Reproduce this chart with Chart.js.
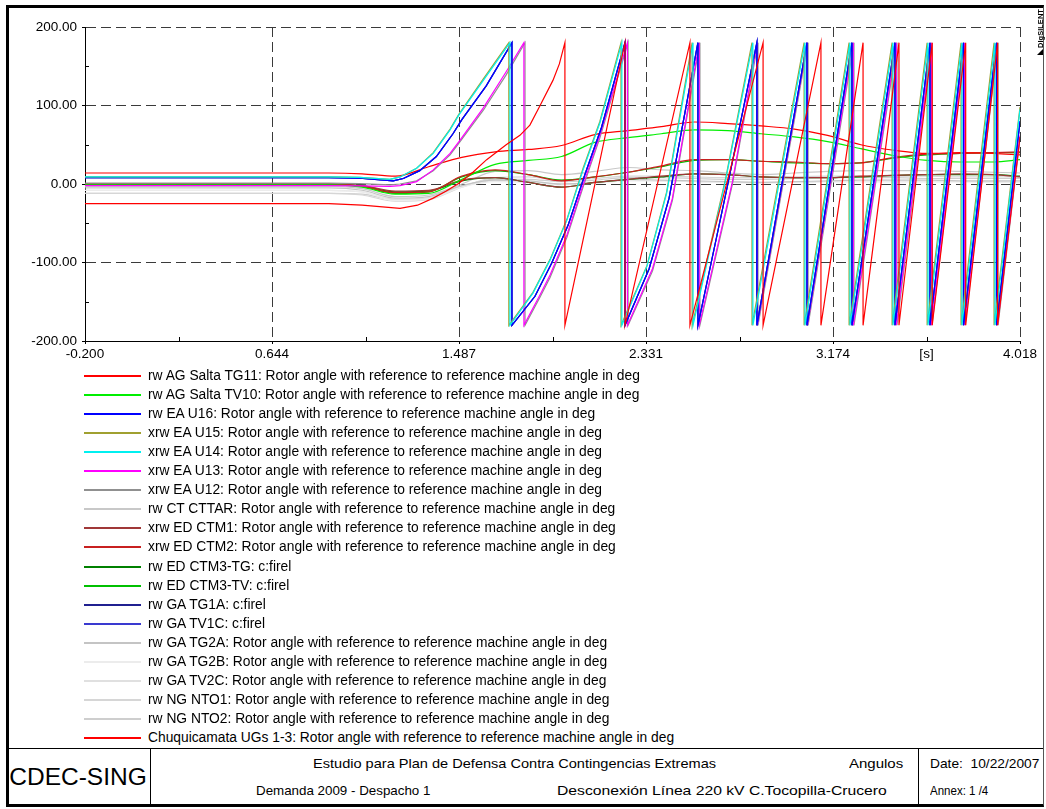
<!DOCTYPE html>
<html>
<head>
<meta charset="utf-8">
<script src="https://cdn.jsdelivr.net/npm/chart.js@4.4.1/dist/chart.umd.min.js"></script>
<style>
  body { margin: 0; background: #fff; font-family: "Liberation Sans", Arial, sans-serif; color: #000; }
  #page { position: relative; width: 1046px; height: 809px; overflow: hidden; }
  #frame { position: absolute; left: 6px; top: 5px; width: 1034px; height: 796px;
    border-left: 3px solid #000; border-top: 3px solid #000; border-right: 1px solid #555; border-bottom: 3px solid #000; }
  #plot { position: absolute; left: 0; top: 0; }
  .hl { position: absolute; height: 1px; background: #000; }
  .vl { position: absolute; width: 1px; background: #000; }
  .txt { position: absolute; white-space: nowrap; font-size: 13px; line-height: 16px; transform-origin: 0 50%; }
  #legend { position: absolute; left: 84px; top: 366px; }
  #legend .item { position: absolute; left: 0; height: 19px; display: flex; align-items: center; white-space: nowrap; font-size: 13.8px; }
  #legend .swatch { display: inline-block; width: 57px; height: 2px; margin-right: 7px; }
  #logo { position: absolute; left: 1018px; top: 24px; width: 44px; line-height: 9px; transform: rotate(-90deg);
    font-size: 7.5px; font-weight: bold; text-align: center; }
  #tri { position: absolute; left: 1037px; top: 49px; width: 0; height: 0; border-left: 6px solid transparent; border-bottom: 6px solid #000; }
</style>
</head>
<body>
<div id="page">
  <div id="frame"></div>
  <canvas id="plot" width="1046" height="370"></canvas>
  <div id="logo">DIgSILENT</div>
  <div id="tri"></div>
  <div id="legend"></div>

  <div class="hl" style="left:9px; top:748px; width:1034px;"></div>
  <div class="vl" style="left:150px; top:748px; height:56px;"></div>
  <div class="vl" style="left:918px; top:748px; height:56px;"></div>
  <div class="txt" style="left:4px; width:148px; top:762px; font-size:24.5px; line-height:30px; text-align:center;">CDEC-SING</div>
  <div class="txt" style="left:313px; top:756px; transform:scaleX(1.12);">Estudio para Plan de Defensa Contra Contingencias Extremas</div>
  <div class="txt" style="left:849px; top:756px; transform:scaleX(1.154);">Angulos</div>
  <div class="txt" style="left:256px; top:783px; transform:scaleX(1.027);">Demanda 2009 - Despacho 1</div>
  <div class="txt" style="left:557px; top:783px; transform:scaleX(1.207);">Desconexión Línea 220 kV C.Tocopilla-Crucero</div>
  <div class="txt" style="left:930px; top:756px; transform:scaleX(1.058);">Date:&nbsp; 10/22/2007</div>
  <div class="txt" style="left:930px; top:783px; transform:scaleX(0.886);">Annex: 1 /4</div>
</div>
<script>
(() => {
  'use strict'

  // axis ticks (odd entries are minor ticks)
  const xTickVals = [-0.2, 0.2218, 0.6436, 1.0654, 1.4872, 1.909, 2.3308, 2.7526, 3.1744, 3.5962, 4.018]
  const xTickLabels = ['-0.200', '', '0.644', '', '1.487', '', '2.331', '', '3.174', '[s]', '4.018']
  const yTickVals = [-200, -150, -100, -50, 0, 50, 100, 150, 200]
  const yTickLabels = ['-200.00', '', '-100.00', '', '0.00', '', '100.00', '', '200.00']

  // smooth (non slipping) machines, common time base in s
  const tSmooth = [-0.2, 0.9, 1.05, 1.2, 1.35, 1.5, 1.65, 1.8, 1.95, 2.1, 2.25, 2.4, 2.55, 2.7, 2.85, 3.0, 3.15, 3.3, 3.45, 3.6, 3.75, 3.9, 4.018]
  const saltaTG11 = [14, 14, 13, 10, 22, 34, 41, 44, 49, 63, 68, 73, 79, 77, 74, 70, 62, 50, 43, 39, 40, 39, 37]
  const saltaTV10 = [-1, -1, -4, -13, -12, 6, 25, 30, 35, 53, 59, 64, 69, 68, 64, 60, 54, 45, 36, 30, 28, 28, 31]
  const ctm1 = [0, 0, -2, -9, -8, 5, 8, 2, -4, 2, 6, 10, 13, 12, 9, 8, 8, 10, 11, 12, 13, 12, 9]
  const ctm2 = [0, 0, -3, -11, -10, 10, 18, 12, 4, 9, 15, 23, 31, 31, 29, 28, 26, 27, 34, 38, 39, 40, 41]
  const ctm3TG = [0, 0, -2, -10, -9, 4, 8, 2, -4, 2, 6, 9, 13, 12, 9, 8, 8, 9, 11, 12, 12, 12, 10]
  const ctm3TV = [0, 0, -3, -12, -10, 9, 17, 12, 5, 9, 15, 22, 30, 31, 29, 27, 26, 27, 33, 37, 39, 40, 40]
  const cttar = [-3, -3, -6, -16, -14, 0, 16, 17, 12, 16, 21, 18, 17, 14, 12, 14, 16, 17, 17, 17, 16, 15, 14]
  const tg2A = [-5, -5, -8, -18, -16, -2, 5, 4, 0, 2, 6, 5, 4, 3, 2, 3, 4, 5, 5, 5, 4, 4, 4]
  const tg2B = [-8, -8, -10, -21, -19, -4, 3, 2, -1, 1, 4, 4, 3, 2, 1, 2, 3, 3, 3, 3, 3, 2, 2]
  const tv2C = [-8, -8, -10, -20, -18, -3, 4, 3, 0, 2, 5, 4, 3, 2, 2, 2, 3, 3, 3, 3, 3, 3, 2]
  const nto1 = [-12, -12, -14, -22, -20, -4, 8, 9, 5, 7, 10, 10, 9, 8, 8, 9, 10, 10, 10, 10, 9, 9, 9]
  const nto2 = [-12, -12, -13, -20, -18, -3, 6, 6, 3, 5, 8, 8, 7, 6, 6, 7, 8, 8, 8, 7, 7, 7, 7]

  // slipping machines: angle wraps from +180 to -180
  const tU14 = [-0.2, 0.9, 1.04, 1.176, 1.221, 1.296, 1.371, 1.447, 1.487, 1.597, 1.717, 1.717, 1.821, 1.898, 1.974, 2.047, 2.123, 2.222, 2.222, 2.335, 2.424, 2.543, 2.543, 2.69, 2.813, 2.813, 3.048, 3.048, 3.251, 3.251, 3.445, 3.445, 3.603, 3.603, 3.756, 3.756, 3.905, 3.905, 4.018]
  const vU14 = [9, 9, 8.5, 6, 9, 20, 39, 69, 88, 132, 180, -180, -139, -97, -46, 18, 78, 180, -180, -105, -12, 180, -180, 5, 180, -180, 180, -180, 180, -180, 180, -180, 180, -180, 180, -180, 180, -180, 95]
  const tU15 = [-0.2, 0.9, 1.04, 1.176, 1.221, 1.296, 1.371, 1.447, 1.487, 1.597, 1.712, 1.712, 1.821, 1.898, 1.974, 2.047, 2.123, 2.218, 2.218, 2.335, 2.424, 2.539, 2.539, 2.69, 2.809, 2.809, 3.044, 3.044, 3.247, 3.247, 3.441, 3.441, 3.599, 3.599, 3.752, 3.752, 3.901, 3.901, 4.018]
  const vU15 = [9, 9, 8.5, 6, 9, 20, 40, 70, 89, 134, 180, -180, -138, -96, -45, 20, 80, 180, -180, -104, -10, 180, -180, 7, 180, -180, 180, -180, 180, -180, 180, -180, 180, -180, 180, -180, 180, -180, 98]
  const tU16 = [-0.2, 0.9, 1.04, 1.19, 1.236, 1.31, 1.385, 1.46, 1.5, 1.61, 1.726, 1.726, 1.83, 1.905, 1.98, 2.055, 2.13, 2.236, 2.236, 2.345, 2.435, 2.565, 2.565, 2.70, 2.831, 2.831, 3.057, 3.057, 3.26, 3.26, 3.454, 3.454, 3.612, 3.612, 3.763, 3.763, 3.912, 3.912, 4.018]
  const vU16 = [8, 8, 7.5, 4, 7, 17, 35, 64, 82, 125, 180, -180, -143, -101, -52, 12, 72, 180, -180, -108, -18, 180, -180, 0, 180, -180, 180, -180, 180, -180, 180, -180, 180, -180, 180, -180, 180, -180, 80]
  const tU13 = [-0.2, 0.9, 1.04, 1.176, 1.221, 1.296, 1.371, 1.447, 1.487, 1.597, 1.70, 1.78, 1.78, 1.853, 1.898, 1.974, 2.047, 2.123, 2.247, 2.247, 2.36, 2.45, 2.571, 2.571, 2.72, 2.833, 2.833, 3.059, 3.059, 3.266, 3.266, 3.46, 3.46, 3.618, 3.618, 3.767, 3.767, 3.916, 3.916, 4.018]
  const vU13 = [-2, -2, -2.5, -3, -2, 3, 18, 39, 54, 97, 143, 180, -180, -141, -116, -65, -1, 62, 180, -180, -108, -18, 180, -180, 2, 180, -180, 180, -180, 180, -180, 180, -180, 180, -180, 180, -180, 180, -180, 62]
  const tU12 = [-0.2, 0.9, 1.04, 1.176, 1.221, 1.296, 1.371, 1.447, 1.487, 1.597, 1.70, 1.785, 1.785, 1.853, 1.898, 1.974, 2.047, 2.123, 2.25, 2.25, 2.36, 2.45, 2.574, 2.574, 2.72, 2.836, 2.836, 3.062, 3.062, 3.269, 3.269, 3.463, 3.463, 3.621, 3.621, 3.77, 3.77, 3.919, 3.919, 4.018]
  const vU12 = [1, 1, 0.5, -1, 0, 4, 17, 37, 52, 94, 139, 180, -180, -144, -119, -68, -4, 59, 180, -180, -111, -21, 180, -180, -1, 180, -180, 180, -180, 180, -180, 180, -180, 180, -180, 180, -180, 180, -180, 58]
  const tChuqui = [-0.2, 0.9, 1.05, 1.221, 1.3, 1.371, 1.43, 1.487, 1.55, 1.612, 1.70, 1.762, 1.807, 1.853, 1.911, 1.94, 1.965, 1.965, 2.236, 2.236, 2.529, 2.529, 2.859, 2.859, 3.12, 3.12, 3.31, 3.31, 3.472, 3.472, 3.622, 3.622, 3.773, 3.773, 3.917, 3.917, 4.018]
  const vChuqui = [-25, -25, -27, -31, -27, -18, -9, 1, 15, 31, 50, 62, 75, 100, 132, 153, 180, -180, 180, -180, 180, -180, 180, -180, 180, -180, 180, -180, 180, -180, 180, -180, 180, -180, 180, -180, 60]

  const rotor = ': Rotor angle with reference to reference machine angle in deg'

  const pts = (ts, vs) => ts.map((t, i) => ({ x: t, y: vs[i] }))
  // order: lower number is drawn on top
  const smooth = (label, color, vs, order) => ({ label, borderColor: color, data: pts(tSmooth, vs), cubicInterpolationMode: 'monotone', order })
  const saw = (label, color, ts, vs, order) => ({ label, borderColor: color, data: pts(ts, vs), tension: 0, order })

  const datasets = [
    smooth('rw AG Salta TG11' + rotor, '#ff0000', saltaTG11, 8),
    smooth('rw AG Salta TV10' + rotor, '#00ee00', saltaTV10, 9),
    saw('rw EA U16' + rotor, '#0000ff', tU16, vU16, 3),
    saw('xrw EA U15' + rotor, '#a0a030', tU15, vU15, 2),
    saw('xrw EA U14' + rotor, '#00f0f0', tU14, vU14, 1),
    saw('xrw EA U13' + rotor, '#ff00ff', tU13, vU13, 6),
    saw('xrw EA U12' + rotor, '#909090', tU12, vU12, 7),
    smooth('rw CT CTTAR' + rotor, '#c8c8c8', cttar, 14),
    smooth('xrw ED CTM1' + rotor, '#a03838', ctm1, 11),
    smooth('xrw ED CTM2' + rotor, '#c82020', ctm2, 10),
    smooth('rw ED CTM3-TG: c:firel', '#008000', ctm3TG, 13),
    smooth('rw ED CTM3-TV: c:firel', '#00c000', ctm3TV, 12),
    saw('rw GA TG1A: c:firel', '#202090', tU16, vU16, 5),
    saw('rw GA TV1C: c:firel', '#3a3ad0', tU16, vU16, 4),
    smooth('rw GA TG2A' + rotor, '#c4c4c4', tg2A, 15),
    smooth('rw GA TG2B' + rotor, '#ececec', tg2B, 16),
    smooth('rw GA TV2C' + rotor, '#e0e0e0', tv2C, 17),
    smooth('rw NG NTO1' + rotor, '#d6d6d6', nto1, 18),
    smooth('rw NG NTO2' + rotor, '#cecece', nto2, 19),
    saw('Chuquicamata UGs 1-3' + rotor, '#ff0000', tChuqui, vChuqui, 0)
  ]

  // minor ticks point into the plot
  const minorTicks = {
    id: 'minorTicks',
    afterDraw (chart) {
      const { ctx, chartArea: a, scales: { x, y } } = chart
      ctx.save()
      ctx.strokeStyle = '#000'
      ctx.lineWidth = 1
      ctx.beginPath()
      xTickVals.forEach((v, i) => {
        if (i % 2 === 0) return
        const px = Math.round(x.getPixelForValue(v)) + 0.5
        ctx.moveTo(px, a.bottom)
        ctx.lineTo(px, a.bottom - 4)
      })
      yTickVals.forEach((v, i) => {
        if (i % 2 === 0) return
        const py = Math.round(y.getPixelForValue(v)) + 0.5
        ctx.moveTo(a.left, py)
        ctx.lineTo(a.left + 4, py)
      })
      ctx.stroke()
      ctx.restore()
    }
  }

  const tickFont = { family: 'Liberation Sans', size: 13.5 }
  const gridColor = c => (c.index % 2 === 0 && c.index !== 0) ? '#3a3a3a' : 'rgba(0,0,0,0)'
  const tickColor = c => (c.index % 2 === 0) ? '#000' : 'rgba(0,0,0,0)'

  const chart = new Chart(document.getElementById('plot'), {
    type: 'line',
    data: { datasets },
    options: {
      responsive: false,
      animation: false,
      events: [],
      layout: { padding: { left: 0, right: 26, top: 27, bottom: 7 } },
      elements: { point: { radius: 0 }, line: { borderWidth: 1.2, fill: false } },
      plugins: { legend: { display: false }, tooltip: { enabled: false } },
      scales: {
        x: {
          type: 'linear',
          min: -0.2,
          max: 4.018,
          afterBuildTicks: s => { s.ticks = xTickVals.map(v => ({ value: v })) },
          afterFit: s => { s.height = 22 },
          ticks: { autoSkip: false, maxRotation: 0, padding: 2, color: '#000', font: tickFont, callback: (v, i) => xTickLabels[i] },
          grid: { color: gridColor, tickColor, tickLength: 3, lineWidth: 1 },
          border: { display: true, color: '#000', width: 1, dash: [10, 5] }
        },
        y: {
          type: 'linear',
          min: -200,
          max: 200,
          afterBuildTicks: s => { s.ticks = yTickVals.map(v => ({ value: v })) },
          afterFit: s => { s.width = 85 },
          ticks: { autoSkip: false, padding: 5, color: '#000', font: tickFont, callback: (v, i) => yTickLabels[i] },
          grid: { color: gridColor, tickColor, tickLength: 3, lineWidth: 1 },
          border: { display: true, color: '#000', width: 1, dash: [10, 5] }
        }
      }
    },
    plugins: [minorTicks]
  })

  // legend below the plot, one entry per line
  const legendBox = document.getElementById('legend')
  chart.data.datasets.forEach((ds, i) => {
    const row = document.createElement('div')
    row.className = 'item'
    row.style.top = Math.round(i * 19.05) + 'px'
    const sw = document.createElement('span')
    sw.className = 'swatch'
    sw.style.backgroundColor = ds.borderColor
    const tx = document.createElement('span')
    tx.textContent = ds.label
    row.appendChild(sw)
    row.appendChild(tx)
    legendBox.appendChild(row)
  })
})()
</script>
</body>
</html>
